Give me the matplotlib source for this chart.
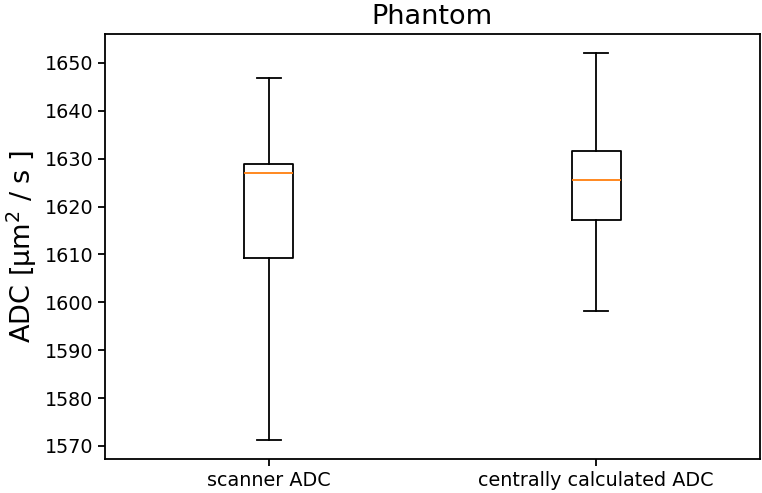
import matplotlib
matplotlib.use("Agg")
from matplotlib import pyplot as plt

labels = ["scanner ADC", "centrally calculated ADC"]
whislo = [1571.3, 1598.1]
q1 = [1609.2, 1617.1]
med = [1626.9, 1625.5]
q3 = [1628.9, 1631.7]
whishi = [1646.9, 1652.0]

stats = []
for i in range(len(labels)):
    stats.append({"label": labels[i], "whislo": whislo[i], "q1": q1[i],
                  "med": med[i], "q3": q3[i], "whishi": whishi[i], "fliers": []})

fig = plt.figure(figsize=(7.62, 4.93), dpi=100)
ax = fig.add_axes([0.138, 0.069, 0.859, 0.862])

lw = 1.3
ax.bxp(stats, widths=0.15, showfliers=False,
       boxprops=dict(linewidth=lw), whiskerprops=dict(linewidth=lw),
       capprops=dict(linewidth=lw), medianprops=dict(linewidth=lw, color="#ff7f0e"))

ax.set_title("Phantom", fontsize=19.5, pad=7)
ax.set_ylabel("ADC [µm$^2$ / s ]", fontsize=19.5)
ax.tick_params(labelsize=13.8, width=lw, length=5)
for s in ax.spines.values():
    s.set_linewidth(lw)

fig.savefig("out.png")
